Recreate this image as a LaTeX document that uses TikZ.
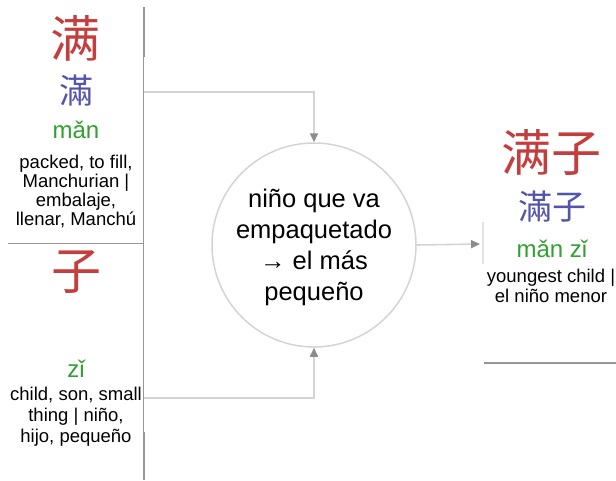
\documentclass[tikz,border=0pt]{standalone}
\usepackage{fontspec}
\setmainfont{Liberation Sans}
\newfontfamily\cjksc{Noto Sans CJK SC}
\newfontfamily\cjktc{Noto Sans CJK TC}
\usetikzlibrary{arrows.meta}
\definecolor{hzred}{RGB}{196,62,62}
\definecolor{hzblue}{RGB}{84,84,172}
\definecolor{hzgreen}{RGB}{48,160,48}
\definecolor{frame}{RGB}{150,150,150}
\definecolor{conn}{RGB}{212,212,212}
\definecolor{tipc}{RGB}{140,140,140}
\tikzset{
  simp/.style={text=hzred, font=\cjksc\fontsize{50}{50}\selectfont, inner sep=0pt},
  trad/.style={text=hzblue, font=\cjktc\fontsize{34}{34}\selectfont, inner sep=0pt},
  pin/.style={text=hzgreen, font=\fontsize{24}{24}\selectfont, inner sep=0pt, anchor=base},
  gloss/.style={font=\fontsize{18.5}{19}\selectfont, align=center, inner sep=0pt, anchor=base},
  framel/.style={draw=frame, line width=1.2pt},
  connector/.style={draw=conn, line width=1.6pt, -{Triangle[length=9pt,width=8pt,color=tipc]}},
  idea/.style={circle, draw=conn, line width=1.5pt, minimum size=204pt, inner sep=0pt}
}
\begin{document}
\begin{tikzpicture}[x=1pt,y=-1pt]
\useasboundingbox (0,0) rectangle (616,480);
% frame lines
\draw[framel] (143.5,7) -- (143.5,480);
\draw[draw=frame, line width=2pt] (143.5,7) -- (143.5,57);
\draw[draw=frame, line width=2pt] (143.5,432) -- (143.5,480);
\draw[framel] (8,243.5) -- (143.5,243.5);
\draw[draw=frame, line width=1.6pt] (484,363) -- (616,363);
\draw[draw=conn!70, line width=1.2pt] (483,222) -- (483,264);
% left top
\node[simp] (s1) at (75,38) {满};
\node[trad] (t1) at (76,91) {滿};
\node[pin] (p1) at (76,138) {mǎn};
\node[gloss] (g1) at (76,225) {packed, to fill,\\Manchurian |\\embalaje,\\llenar, Manchú};
% left bottom
\node[simp] (s2) at (76,272) {子};
\node[pin] (p2) at (76,377) {zǐ};
\node[gloss, font=\fontsize{18.5}{21}\selectfont] (g2) at (76,442) {child, son, small\\thing | niño,\\hijo, pequeño};
% circle
\node[idea] (c) at (314,245) {};
\node[font=\fontsize{25.5}{31}\selectfont, align=center, inner sep=0pt, anchor=base] (ct) at (314,300) {niño que va\\empaquetado\\→ el más\\pequeño};
% right
\node[simp] (s3) at (551,152) {满子};
\node[trad] (t3) at (552,207) {滿子};
\node[pin] (p3) at (552,257) {mǎn zǐ};
\node[gloss, font=\fontsize{18.5}{20}\selectfont] (g3) at (551,302) {youngest child |\\el niño menor};
% connectors
\coordinate (a1) at (143.5,92);
\coordinate (a2) at (143.5,398);
\coordinate (a3) at (480,244);
\draw[connector] (a1) -| (c.north);
\draw[connector] (a2) -| (c.south);
\draw[connector] (c.east) -- (a3);
\end{tikzpicture}
\end{document}
